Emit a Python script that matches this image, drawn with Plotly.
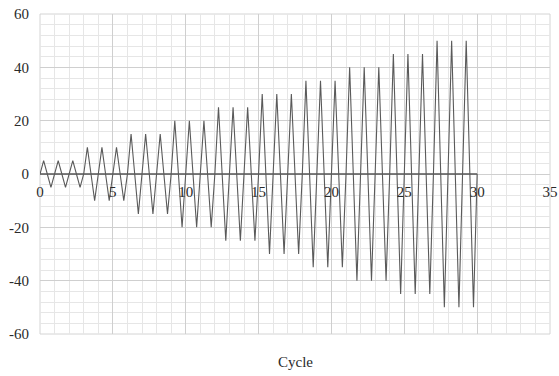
import plotly.graph_objects as go

# Peak displacement for each loading cycle (positive and negative peaks equal)
cycle_amplitudes = [5, 5, 5, 10, 10, 10, 15, 15, 15, 20, 20, 20,
                    25, 25, 25, 30, 30, 30, 35, 35, 35, 40, 40, 40,
                    45, 45, 45, 50, 50, 50]
# Phase positions within one cycle and the sign of the signal at each
phase_offsets = [0.25, 0.5, 0.75, 1.0]
phase_signs = [1, 0, -1, 0]

baseline_x = [0, 30]
baseline_y = [0, 0]

x_ticks = [0, 5, 10, 15, 20, 25, 30, 35]
y_ticks = [-60, -40, -20, 0, 20, 40, 60]
y_ticklabels = ["-60", "-40", "-20", "0", "20", "40", "60"]

xs, ys = [0.0], [0.0]
for i, amp in enumerate(cycle_amplitudes):
    for off, s in zip(phase_offsets, phase_signs):
        xs.append(i + off)
        ys.append(s * amp)

fig = go.Figure()
fig.add_trace(go.Scatter(x=baseline_x, y=baseline_y, mode="lines",
                         line=dict(color="#555555", width=1.5),
                         hoverinfo="skip", showlegend=False))
fig.add_trace(go.Scatter(x=xs, y=ys, mode="lines",
                         line=dict(color="#5a5a5a", width=1.1),
                         showlegend=False))

font = dict(family="Liberation Serif", size=15, color="#2a2a2a")

fig.update_layout(
    width=559, height=376,
    margin=dict(l=40, r=9, t=14, b=42, autoexpand=False),
    paper_bgcolor="white", plot_bgcolor="white",
    font=font,
    xaxis=dict(range=[0, 35], tickvals=x_ticks, showline=False, zeroline=False,
               showgrid=True, gridcolor="#cfcfcf", gridwidth=1,
               minor=dict(dtick=1, showgrid=True, gridcolor="#e6e6e6", gridwidth=1),
               anchor="free", position=0.5, ticks="", ticklabelstandoff=7,
               automargin=False, tickfont=font),
    yaxis=dict(range=[-60, 60], tickvals=y_ticks, ticktext=y_ticklabels,
               showline=False, zeroline=False,
               showgrid=True, gridcolor="#cfcfcf", gridwidth=1,
               minor=dict(dtick=4, showgrid=True, gridcolor="#e6e6e6", gridwidth=1),
               ticks="", ticklabelstandoff=10, automargin=False, tickfont=font),
    shapes=[dict(type="rect", xref="paper", yref="paper", x0=0, x1=1, y0=0, y1=1,
                 line=dict(color="#d4d4d4", width=1), layer="below")],
    annotations=[dict(text="Cycle", xref="paper", yref="paper", x=0.5, y=-0.118,
                      xanchor="center", yanchor="bottom", showarrow=False, font=font)],
)

fig.write_html("out.html")
